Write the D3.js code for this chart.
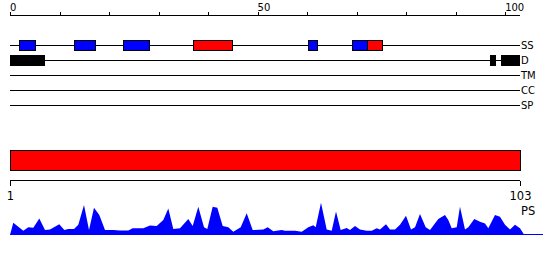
<!DOCTYPE html>
<html>
<head>
<meta charset="utf-8">
<script src="https://cdn.jsdelivr.net/npm/d3@7"></script>
<style>
  body { margin: 0; background: #fff; }
  svg { display: block; font-family: "DejaVu Sans", sans-serif; }
  .axis path, .axis line, .track { stroke: #000; shape-rendering: crispEdges; }
</style>
</head>
<body>
<svg id="chart" width="550" height="260"></svg>
<script>
// sequence length and top ruler ticks
var seqLength = 103;
var topTickLabels = [0, 50, 100];

// feature tracks
var tracks = ["SS", "D", "TM", "CC", "SP"];

// secondary structure segments (start, end, type)
var ssSegments = [
  { start: 1.8, end: 5, type: "strand" },
  { start: 12.9, end: 17.1, type: "strand" },
  { start: 22.8, end: 28, type: "strand" },
  { start: 37, end: 44.9, type: "helix" },
  { start: 60.1, end: 62, type: "strand" },
  { start: 69, end: 72.1, type: "strand" },
  { start: 72.1, end: 75.1, type: "helix" }
];

// disordered regions
var disorderSegments = [
  { start: 0, end: 7 },
  { start: 97, end: 98.1 },
  { start: 99.1, end: 103 }
];

// PS profile (residue position, value)
var psPos = [1, 1.66, 3.66, 4.66, 5.66, 6.86, 8, 9, 10.86, 11.86, 12.66, 13.8, 14.66, 15.8, 16.8, 17.8, 18.86, 20, 21.66, 23,
  24.66, 25.54, 27.66, 29, 30.34, 31.66, 32.66, 33.66, 35, 36.66, 37.54, 38.66, 39.8, 40.46, 41.54, 42.46, 43.54, 44.66, 45.66, 47.14,
  48.34, 49.54, 51.66, 52.54, 53.66, 55.34, 56, 58, 59.34, 60.66, 61.66, 62.14, 63.2, 64.34, 65.34, 66.2, 67.14, 68.34, 69, 70,
  71, 72.34, 73.34, 74.34, 75, 76.2, 77, 78, 79, 80.2, 81.2, 82, 83, 84.14, 85, 86.66, 88, 88.66, 89.34, 90.34,
  91, 92, 92.66, 93.86, 95, 96, 96.66, 98, 99, 100, 101, 102, 103, 103.86];
var psVal = [0, 0.35, 0.12, 0.22, 0.21, 0.47, 0.14, 0.16, 0.31, 0.14, 0.17, 0.17, 0.29, 0.86, 0.14, 0.78, 0.57, 0.14, 0.14, 0.13,
  0.13, 0.19, 0.19, 0.27, 0.26, 0.43, 0.76, 0.17, 0.19, 0.46, 0.26, 0.81, 0.22, 0.17, 0.81, 0.78, 0.26, 0.22, 0.09, 0.22,
  0.62, 0.14, 0.16, 0.22, 0.11, 0.14, 0.12, 0.12, 0.09, 0.22, 0.28, 0.22, 0.92, 0.16, 0.12, 0.67, 0.14, 0.2, 0.14, 0.26,
  0.16, 0.12, 0.12, 0.19, 0.16, 0.31, 0.16, 0.16, 0.29, 0.55, 0.16, 0.22, 0.6, 0.22, 0.14, 0.46, 0.57, 0.43, 0.19, 0.22,
  0.81, 0.16, 0.22, 0.46, 0.38, 0.33, 0.19, 0.57, 0.52, 0.29, 0.16, 0.29, 0.19, 0];

var colors = { strand: "#0000ff", helix: "#ff0000" };

var svg = d3.select("#chart");

// top ruler, 0..103
var x = d3.scaleLinear().domain([0, seqLength]).range([10, 520]);

var topAxis = svg.append("g")
  .attr("class", "axis")
  .attr("transform", "translate(0,15.5)")
  .call(d3.axisTop(x).tickValues(d3.range(0, seqLength, 10)).tickSize(4).tickSizeOuter(0).tickFormat(""));
topAxis.select(".domain").attr("d", "M" + x(0) + ",0H" + x(seqLength));

svg.selectAll(".topLabel")
  .data(topTickLabels)
  .enter()
  .append("text")
  .attr("class", "topLabel")
  .attr("x", function(d) { return x(d); })
  .attr("y", 11)
  .attr("font-size", 10)
  .text(function(d) { return d; });

// feature track lines
var yTrack = d3.scalePoint().domain(tracks).range([45, 105]);

svg.selectAll(".track")
  .data(tracks)
  .enter()
  .append("line")
  .attr("class", "track")
  .attr("x1", x(0))
  .attr("x2", x(seqLength))
  .attr("y1", function(d) { return yTrack(d) + 0.5; })
  .attr("y2", function(d) { return yTrack(d) + 0.5; });

svg.selectAll(".trackLabel")
  .data(tracks)
  .enter()
  .append("text")
  .attr("class", "trackLabel")
  .attr("x", 521)
  .attr("y", function(d) { return yTrack(d) + 4; })
  .attr("font-size", 10)
  .text(function(d) { return d; });

svg.selectAll(".ss")
  .data(ssSegments)
  .enter()
  .append("rect")
  .attr("class", "ss")
  .attr("x", function(d) { return x(d.start) + 0.5; })
  .attr("y", yTrack("SS") - 4.5)
  .attr("width", function(d) { return x(d.end) - x(d.start); })
  .attr("height", 10)
  .attr("fill", function(d) { return colors[d.type]; })
  .attr("stroke", "#000")
  .attr("shape-rendering", "crispEdges");

svg.selectAll(".dis")
  .data(disorderSegments)
  .enter()
  .append("rect")
  .attr("class", "dis")
  .attr("x", function(d) { return x(d.start); })
  .attr("y", yTrack("D") - 5)
  .attr("width", function(d) { return x(d.end) - x(d.start); })
  .attr("height", 11)
  .attr("fill", "#000")
  .attr("shape-rendering", "crispEdges");

// residue scale 1..103
var xr = d3.scaleLinear().domain([1, seqLength]).range([10, 520]);

svg.append("rect")
  .attr("x", xr(1) + 0.5)
  .attr("y", 150.5)
  .attr("width", xr(seqLength) - xr(1))
  .attr("height", 20)
  .attr("fill", "#ff0000")
  .attr("stroke", "#000")
  .attr("shape-rendering", "crispEdges");

var bottomAxis = svg.append("g")
  .attr("class", "axis")
  .attr("transform", "translate(0,180.5)")
  .call(d3.axisBottom(xr).tickValues([1, seqLength]).tickSize(5).tickSizeOuter(0));
bottomAxis.select(".domain").attr("d", "M" + xr(1) + ",0H" + xr(seqLength));
bottomAxis.selectAll("text")
  .attr("y", 11)
  .attr("font-size", 11.5)
  .attr("font-family", "DejaVu Sans, sans-serif");

svg.append("text")
  .attr("x", 521)
  .attr("y", 215)
  .attr("font-size", 11.5)
  .text("PS");

// PS area profile
var yPs = d3.scaleLinear().domain([0, 1]).range([235, 200]);

var psData = psPos.map(function(p, i) { return { pos: p, value: psVal[i] }; });

svg.append("path")
  .datum(psData)
  .attr("fill", "#0000ff")
  .attr("d", d3.area()
    .x(function(d) { return xr(d.pos); })
    .y0(yPs(0))
    .y1(function(d) { return yPs(d.value); }));

svg.append("line")
  .attr("x1", xr(1))
  .attr("x2", 543)
  .attr("y1", yPs(0) - 0.5)
  .attr("y2", yPs(0) - 0.5)
  .attr("stroke", "#0000ff")
  .attr("shape-rendering", "crispEdges");
</script>
</body>
</html>
